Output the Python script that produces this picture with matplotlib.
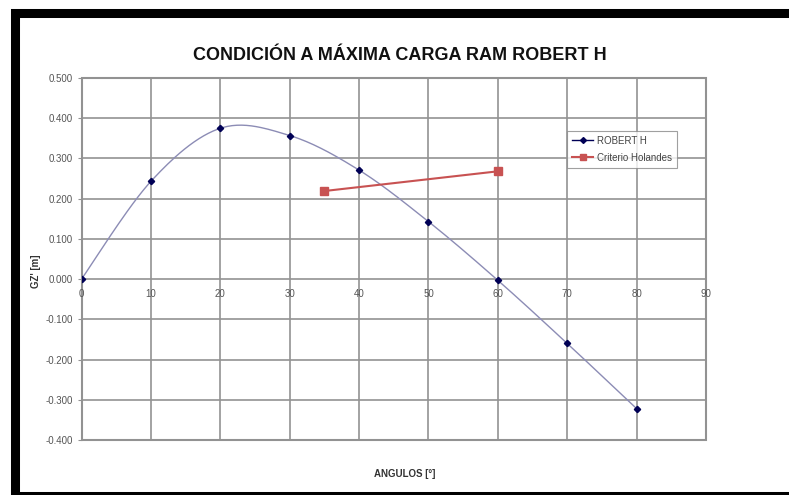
import numpy as np
import matplotlib.pyplot as plt
from matplotlib.patches import Rectangle

plt.rcParams['font.family'] = ['Liberation Sans', 'DejaVu Sans']

angulos = [0, 10, 20, 30, 40, 50, 60, 70, 80]
gz_robert = [0.000, 0.243, 0.375, 0.357, 0.271, 0.143, -0.003, -0.160, -0.322]
criterio_x = [35, 60]
criterio_y = [0.219, 0.268]
xticks = [0, 10, 20, 30, 40, 50, 60, 70, 80, 90]
yticks = [0.5, 0.4, 0.3, 0.2, 0.1, 0.0, -0.1, -0.2, -0.3, -0.4]

W, H = 789, 495

def excel_smooth(x, y, n=30):
	# bezier smoothing like excel "smoothed line"
	p = np.column_stack([x, y]).astype(float)
	p = np.vstack([p[0], p, p[-1]])
	out = []
	for i in range(1, len(p)-2):
		p0, p1, p2, p3 = p[i-1], p[i], p[i+1], p[i+2]
		c1 = p1 + (p2-p0)/6.0
		c2 = p2 - (p3-p1)/6.0
		t = np.linspace(0, 1, n)[:, None]
		seg = (1-t)**3*p1 + 3*(1-t)**2*t*c1 + 3*(1-t)*t**2*c2 + t**3*p2
		out.append(seg)
	out = np.vstack(out)
	return out[:, 0], out[:, 1]

fig = plt.figure(figsize=(W/100, H/100), dpi=100)
fig.patch.set_facecolor('white')

# black frame
fig.patches.append(Rectangle((14.5/W, 1-496/H), (820-14.5)/W, (496-12.5)/H,
	transform=fig.transFigure, fill=False, edgecolor='black', linewidth=6.5))

ax = fig.add_axes([81.5/W, 1-440/H, (706-81.5)/W, (440-78)/H])
ax.set_xlim(0, 90)
ax.set_ylim(-0.4, 0.5)

gridc = '#929292'
for xv in xticks:
	ax.axvline(xv, color=gridc, lw=1.2, zorder=1)
for yv in yticks:
	ax.axhline(yv, color=gridc, lw=1.2, zorder=1)

for s in ax.spines.values():
	s.set_visible(False)
ax.add_patch(Rectangle((0, 0), 1, 1, transform=ax.transAxes, fill=False,
	edgecolor=gridc, lw=1.5, clip_on=False, zorder=2))

sx, sy = excel_smooth(angulos, gz_robert)
ax.plot(sx, sy, color='#8c8cb5', lw=1.0, zorder=3)
ax.plot(angulos, gz_robert, ls='none', marker='D', ms=3.2, color='#000055', zorder=4)
ax.plot(criterio_x, criterio_y, color='#c85252', lw=1.5, marker='s', ms=5.5,
	mfc='#c85252', mec='#c85252', zorder=4)

# legend proxies
h1, = ax.plot([], [], color='#000055', lw=1, marker='D', ms=3)
h2, = ax.plot([], [], color='#c85252', lw=1.5, marker='s', ms=4.5)
leg = fig.legend([h1, h2], ['ROBERT H', 'Criterio Holandes'], loc='upper left',
	bbox_to_anchor=(567/W, 1-131/H), fontsize=7, frameon=True, fancybox=False,
	edgecolor='#888888', handlelength=2.2, borderpad=0.5, labelspacing=0.7,
	handletextpad=0.4, borderaxespad=0)
leg.get_frame().set_linewidth(0.8)
for t in leg.get_texts():
	t.set_color('#444444')

# ticks
ax.set_xticks([])
ax.set_yticks(yticks)
ax.set_yticklabels(['%.3f' % v for v in yticks], fontsize=7, color='#555555')
ax.tick_params(axis='y', length=3, color=gridc, pad=3)
for xv in xticks:
	ax.text(xv, -0.025, str(xv), ha='center', va='top', fontsize=7, color='#555555')

fig.text(400/W, 1-55/H, 'CONDICIÓN A MÁXIMA CARGA RAM ROBERT H', ha='center', va='center',
	fontsize=13, fontweight='bold', color='#111111')
fig.text(36/W, 1-271/H, "GZ' [m]", rotation=90, ha='center', va='center',
	fontsize=7, fontweight='bold', color='#333333')
fig.text(405/W, 1-474/H, 'ANGULOS [°]', ha='center', va='center',
	fontsize=7, fontweight='bold', color='#333333')

fig.savefig('out.png', dpi=100)
